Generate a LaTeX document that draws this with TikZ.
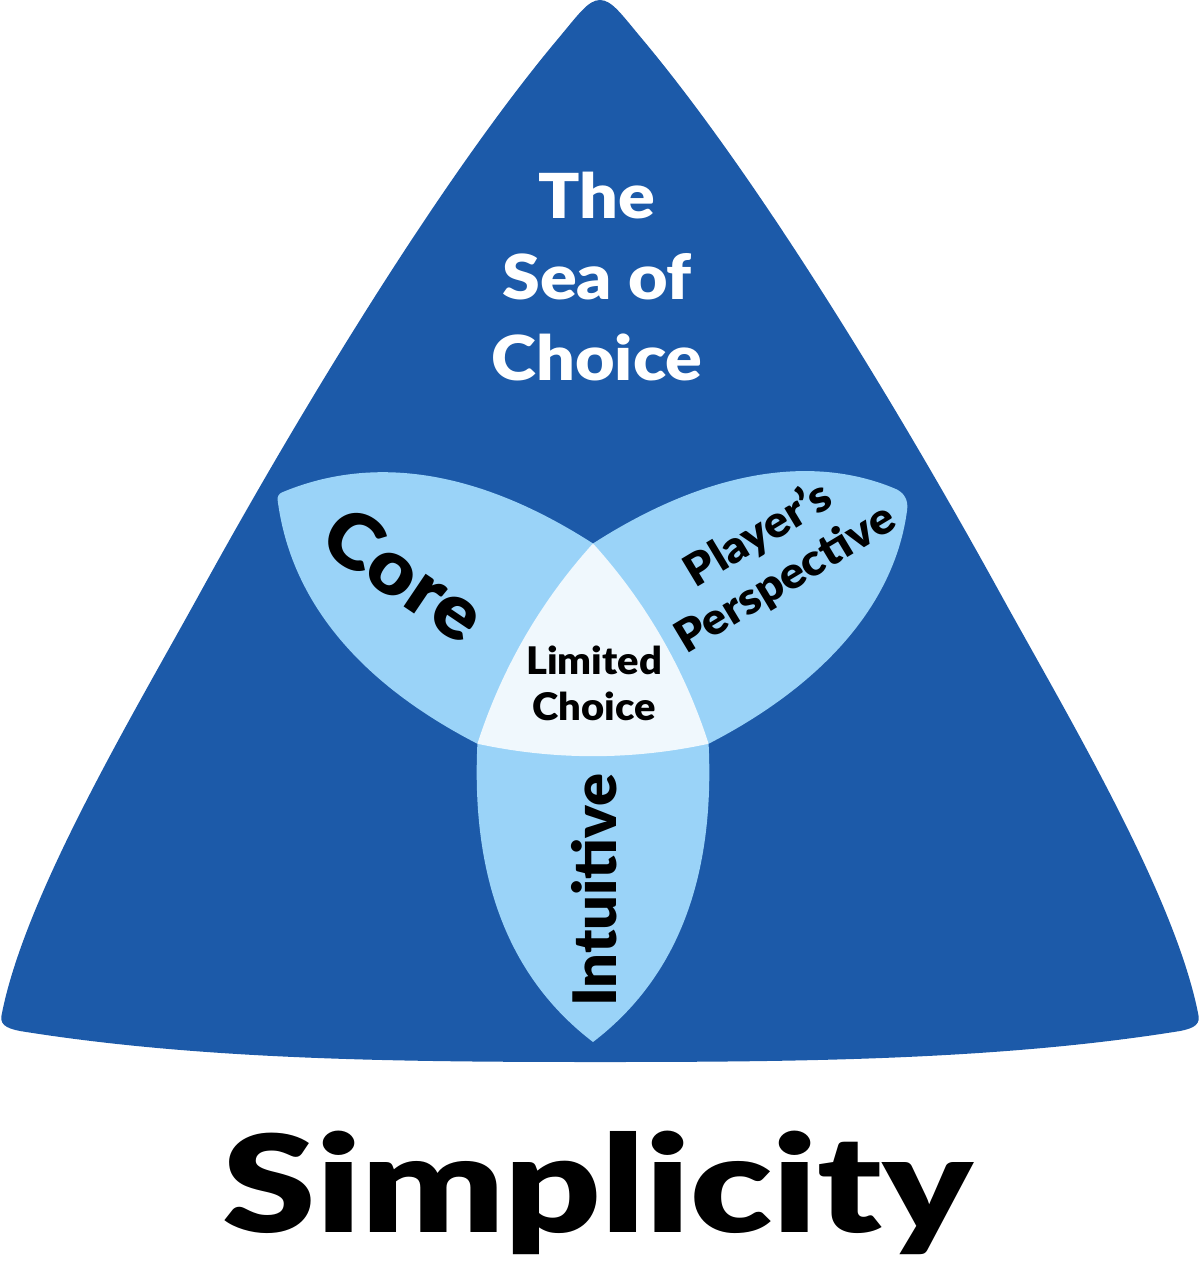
\documentclass[tikz,border=0pt]{standalone}
\usepackage{fontspec}
\setmainfont{Lato}[BoldFont={Lato Black}]
\definecolor{seablue}{HTML}{1C5AA9}
\definecolor{petalblue}{HTML}{9AD3F8}
\definecolor{centerwhite}{HTML}{F0F8FD}
\tikzset{
  petal/.pic={\fill[petalblue] (-115.6,66.75) .. controls (-122,200) and (-85,300) .. ({-0.794*#1},{365-0.607*#1})
     .. controls ({-0.3*#1},{365-0.2*#1}) and ({0.3*#1},{365-0.2*#1}) .. ({0.794*#1},{365-0.607*#1})
     .. controls (85,300) and (122,200) .. (115.6,66.75) -- cycle;},
  label/.style={inner sep=0pt, align=center, text=black},
}
\begin{document}
\begin{tikzpicture}[x=1pt,y=-1pt]
\useasboundingbox (0,0) rectangle (1200,1284);
% outer triangle
\fill[seablue] (600,0) .. controls (612,0) and (622,15) .. (643,40)
  .. controls (760,180) and (901,413) .. (1000,593)
  .. controls (1066,713) and (1174,893) .. (1198,1013)
  .. controls (1201,1024) and (1195,1028) .. (1180,1031)
  .. controls (1000,1060) and (800,1062) .. (600,1062)
  .. controls (400,1062) and (200,1060) .. (20,1031)
  .. controls (5,1028) and (-1,1024) .. (2,1013)
  .. controls (26,893) and (134,713) .. (200,593)
  .. controls (299,413) and (440,180) .. (557,40)
  .. controls (578,15) and (588,0) .. (600,0) -- cycle;
% petals
\pic at (593,677) {petal=0};
\pic[rotate=-120] at (593,677) {petal=6};
\pic[rotate=120] at (593,677) {petal=16};
% centre
\begin{scope}[shift={(593,677)}]
\fill[centerwhite] (-115.6,66.75) .. controls (-39,83.3) and (39,83.3) .. (115.6,66.75)
  .. controls (91.6,-7.9) and (52.6,-75.4) .. (0,-133.5)
  .. controls (-52.6,-75.4) and (-91.6,-7.9) .. (-115.6,66.75) -- cycle;
\end{scope}
% texts
\node[label, text=white, font=\fontsize{62}{81}\selectfont\bfseries, xscale=1.1] (sea) at (597,277) {The\\Sea of\\Choice};
\node[label, font=\fontsize{76}{80}\selectfont\bfseries, rotate=-34, xscale=1.08] (core) at (405,574) {Core};
\node[label, font=\fontsize{44}{52}\selectfont\bfseries, rotate=31, xscale=1.06] (player) at (772,557) {Player's\\Perspective};
\node[label, font=\fontsize{60}{70}\selectfont\bfseries, rotate=90, xscale=1.02] (intuitive) at (594,890) {Intuitive};
\node[label, font=\fontsize{38}{46}\selectfont\bfseries, xscale=1.05] (limited) at (594,683) {Limited\\Choice};
\node[label, font=\fontsize{135}{140}\selectfont\bfseries, anchor=base, xscale=1.25] (simplicity) at (598,1232) {Simplicity};
\end{tikzpicture}
\end{document}
